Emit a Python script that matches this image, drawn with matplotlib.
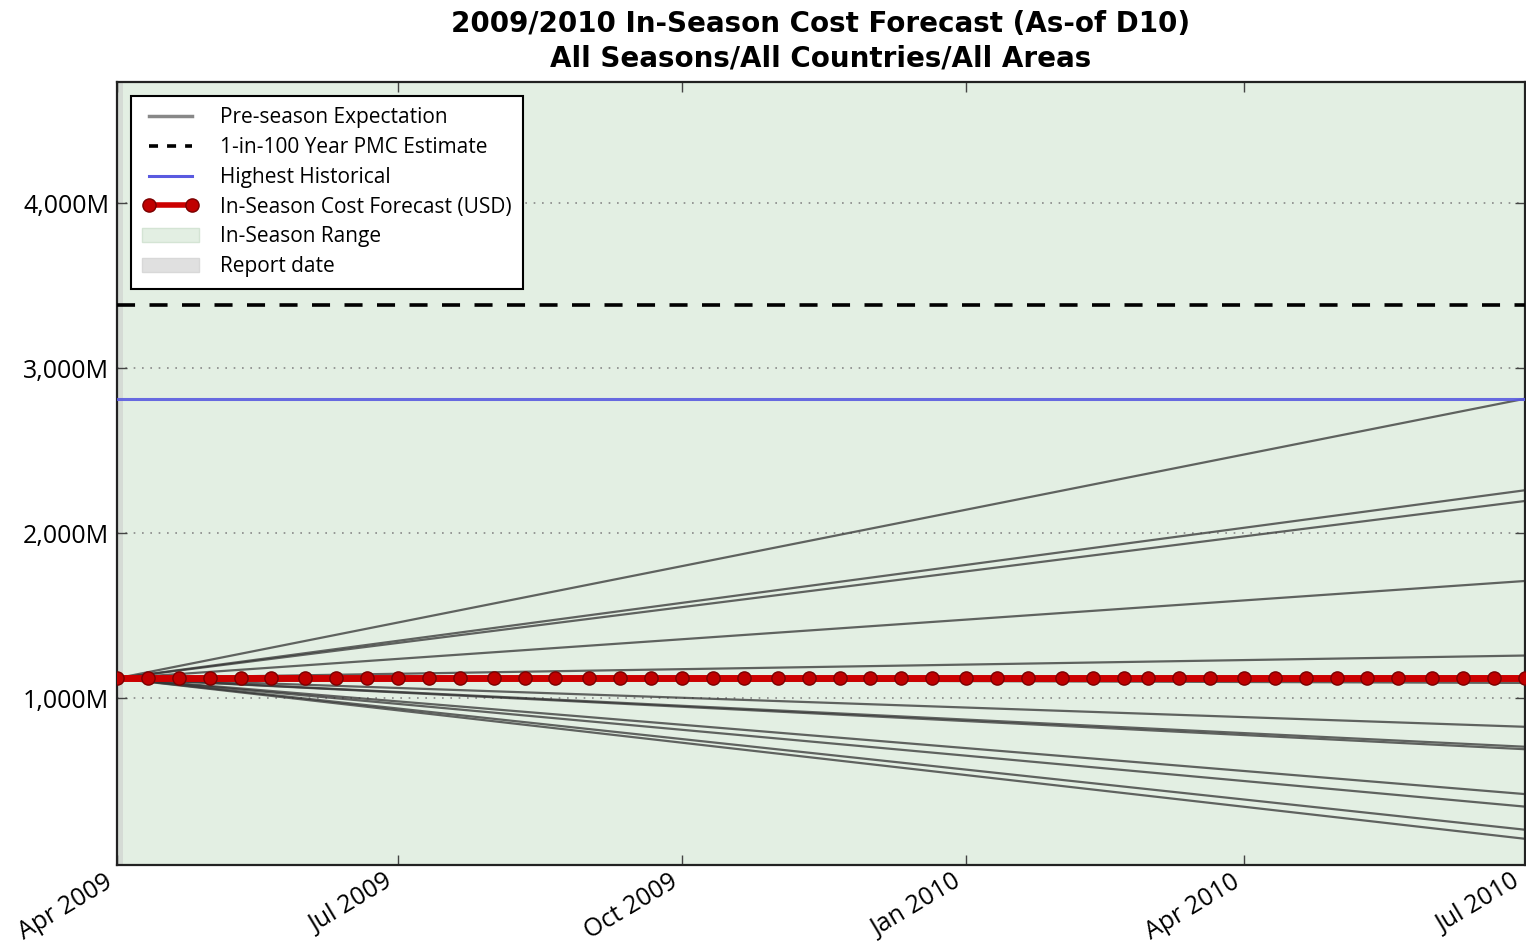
import matplotlib
matplotlib.use("Agg")
import matplotlib.pyplot as plt
import matplotlib.dates as mdates
from matplotlib.lines import Line2D
from matplotlib.patches import Patch
from matplotlib.ticker import FuncFormatter, FixedLocator
import datetime as dt

plt.rcParams['font.family'] = ['Open Sans', 'DejaVu Sans']

# ---- data ----
forecast_dates = [
    "2009-04-01", "2009-04-11", "2009-04-21", "2009-05-01", "2009-05-11", "2009-05-21",
    "2009-06-01", "2009-06-11", "2009-06-21", "2009-07-01", "2009-07-11", "2009-07-21",
    "2009-08-01", "2009-08-11", "2009-08-21", "2009-09-01", "2009-09-11", "2009-09-21",
    "2009-10-01", "2009-10-11", "2009-10-21", "2009-11-01", "2009-11-11", "2009-11-21",
    "2009-12-01", "2009-12-11", "2009-12-21", "2010-01-01", "2010-01-11", "2010-01-21",
    "2010-02-01", "2010-02-11", "2010-02-21", "2010-03-01", "2010-03-11", "2010-03-21",
    "2010-04-01", "2010-04-11", "2010-04-21", "2010-05-01", "2010-05-11", "2010-05-21",
    "2010-06-01", "2010-06-11", "2010-06-21", "2010-07-01",
]
forecast_values = [
    1120, 1120, 1120, 1120, 1120, 1120, 1120, 1120, 1120, 1120, 1120, 1120,
    1120, 1120, 1120, 1120, 1120, 1120, 1120, 1120, 1120, 1120, 1120, 1120,
    1120, 1120, 1120, 1120, 1120, 1120, 1120, 1120, 1120, 1120, 1120, 1120,
    1120, 1120, 1120, 1120, 1120, 1120, 1120, 1120, 1120, 1120,
]
preseason_start_date = "2009-04-01"
preseason_end_date = "2010-07-01"
preseason_start_value = 1120
preseason_end_values = [2815, 2260, 2195, 1710, 1258, 1092, 826, 705, 690, 418, 342, 202, 147]
pmc_1in100 = 3382
highest_historical = 2815
report_date_start = "2009-04-01"
report_date_end = "2009-04-03"
season_start = "2009-04-01"
season_end = "2010-07-01"
y_ticks = [1000, 2000, 3000, 4000]
x_ticks = ["2009-04-01", "2009-07-01", "2009-10-01", "2010-01-01", "2010-04-01", "2010-07-01"]
title = "2009/2010 In-Season Cost Forecast (As-of D10)\nAll Seasons/All Countries/All Areas"

def d(s):
    return dt.datetime.strptime(s, "%Y-%m-%d")

fdates = [d(s) for s in forecast_dates]

fig = plt.figure(figsize=(15.26, 9.43), dpi=100)
ax = fig.add_axes([0.0767, 0.0827, 0.9226, 0.8303])

# in-season range shading
ax.axvspan(d(season_start), d(season_end), color='#e3efe3', zorder=0, lw=0)
# report date
ax.axvspan(d(report_date_start), d(report_date_end), color='#c8c8c8', alpha=0.5, zorder=0.5, lw=0)

# pre-season expectation lines
for ev in preseason_end_values:
    ax.plot([d(preseason_start_date), d(preseason_end_date)], [preseason_start_value, ev],
            color='#333333', alpha=0.75, lw=1.6, zorder=2)

ax.axhline(pmc_1in100, color='black', lw=2.6, linestyle=(0, (5, 4)), zorder=3)
ax.axhline(highest_historical, color='#5a5ae0', lw=2.2, alpha=0.9, zorder=3)

ax.plot(fdates, forecast_values, color='#cc0000', lw=5, marker='o', markersize=9.5,
        markerfacecolor='#c00000', markeredgecolor='#7a0000', markeredgewidth=1.0, zorder=4)

ax.set_xlim(d(season_start), d(season_end))
ax.set_ylim(-12, 4735)

ax.yaxis.set_major_locator(FixedLocator(y_ticks))
ax.yaxis.set_major_formatter(FuncFormatter(lambda v, p: f"{v:,.0f}M"))
ax.xaxis.set_major_locator(FixedLocator([mdates.date2num(d(s)) for s in x_ticks]))
ax.xaxis.set_major_formatter(mdates.DateFormatter("%b %Y"))

ax.grid(axis='y', linestyle=(0, (1, 4)), color='#888888', lw=1.2)
ax.tick_params(direction='in', top=True, right=True, length=7, width=1, color='#444444')
ax.tick_params(axis='y', labelsize=18, pad=5.5)
ax.tick_params(axis='x', labelsize=18, pad=3)
for lbl in ax.get_xticklabels():
    lbl.set_rotation(31)
    lbl.set_ha('right')
for sp in ax.spines.values():
    sp.set_linewidth(1.6)
    sp.set_color('#222222')

ax.set_title(title, fontsize=20, fontweight='bold', pad=11, linespacing=1.32,
             family=['DejaVu Sans'])

handles = [
    Line2D([], [], color='#888888', lw=2.5),
    Line2D([], [], color='black', lw=2.6, linestyle=(0, (2.5, 2.5))),
    Line2D([], [], color='#5a5ae0', lw=2.2),
    Line2D([], [], color='#cc0000', lw=4, marker='o', markersize=9.5,
           markerfacecolor='#c00000', markeredgecolor='#7a0000'),
    Patch(facecolor='#e3efe3', edgecolor='#d4e4d4'),
    Patch(facecolor='#e0e0e0', edgecolor='#d8d8d8'),
]
labels = ["Pre-season Expectation", "1-in-100 Year PMC Estimate", "Highest Historical",
          "In-Season Cost Forecast (USD)", "In-Season Range", "Report date"]
leg = ax.legend(handles, labels, loc='upper left', fontsize=15, fancybox=False,
                framealpha=1, edgecolor='black', borderaxespad=0.67, handlelength=2.7,
                labelspacing=0.42, borderpad=0.55, handletextpad=1.0, numpoints=2)
leg.get_frame().set_linewidth(1.5)

fig.savefig("out.png", dpi=100)
